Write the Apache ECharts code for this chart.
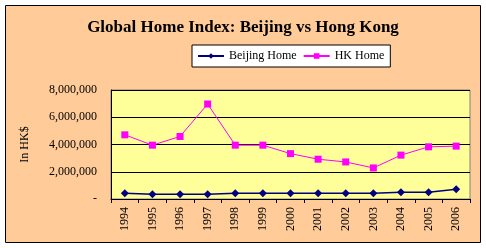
<!DOCTYPE html>
<html><head><meta charset="utf-8">
<script src="https://cdn.jsdelivr.net/npm/echarts@6/dist/echarts.min.js"></script>
<style>html,body{margin:0;padding:0;background:#fff}#c{width:486px;height:248px}</style>
</head><body><div id="c"></div>
<script>
const years = ['1994','1995','1996','1997','1998','1999','2000','2001','2002','2003','2004','2005','2006'];
const beijingHome = [420000,350000,350000,350000,420000,420000,420000,420000,420000,420000,490000,490000,710000];
const hkHome = [4710000,3950000,4590000,6970000,3950000,3950000,3330000,2920000,2720000,2280000,3220000,3830000,3880000];
const yTicks = [0,2000000,4000000,6000000,8000000];

const font = '"Liberation Serif", "Times New Roman", serif';
const chart = echarts.init(document.getElementById('c'));
chart.setOption({
  animation: false,
  textStyle: {fontFamily: font},
  graphic: [{
    type: 'rect', z: -10, silent: true,
    shape: {x: 5.5, y: 5.5, width: 475, height: 237},
    style: {fill: '#FFCC99', stroke: '#000', lineWidth: 1}
  }],
  title: {
    text: 'Global Home Index: Beijing vs Hong Kong',
    left: 'center', top: 14,
    textStyle: {fontFamily: font, fontSize: 17, fontWeight: 'bold', color: '#000'}
  },
  legend: {
    left: 192, top: 45,
    backgroundColor: '#fff', borderColor: '#000', borderWidth: 1,
    padding: [5, 6, 5, 5], itemGap: 6, itemWidth: 26, itemHeight: 7,
    textStyle: {fontFamily: font, fontSize: 12, color: '#000'},
    data: ['Beijing Home', 'HK Home']
  },
  grid: {
    left: 111, right: 16, top: 90, bottom: 49,
    show: true, backgroundColor: '#FFFF99', borderColor: '#808080', borderWidth: 1
  },
  xAxis: {
    type: 'category', data: years, boundaryGap: true,
    axisLine: {lineStyle: {color: '#000', width: 1}},
    axisTick: {show: true, length: 4, interval: 0, lineStyle: {color: '#000'}},
    axisLabel: {rotate: 90, interval: 0, fontFamily: font, fontSize: 12, color: '#000', margin: 8}
  },
  yAxis: {
    type: 'value', min: 0, max: 8000000, interval: 2000000,
    name: 'In HK$', nameLocation: 'middle', nameGap: 80, nameRotate: 90,
    nameTextStyle: {fontFamily: font, fontSize: 12, color: '#000'},
    axisLine: {show: true, lineStyle: {color: '#000'}},
    axisTick: {show: false},
    splitLine: {lineStyle: {color: '#000', width: 1}},
    axisLabel: {
      fontFamily: font, fontSize: 12, color: '#000', margin: 14,
      formatter: v => v === 0 ? '-' : v.toLocaleString('en-US')
    }
  },
  series: [
    {name: 'Beijing Home', type: 'line', data: beijingHome, symbol: 'diamond', symbolSize: 8,
     itemStyle: {color: '#000080'}, lineStyle: {color: '#000080', width: 1.5}},
    {name: 'HK Home', type: 'line', data: hkHome, symbol: 'rect', symbolSize: 7,
     itemStyle: {color: '#FF00FF'}, lineStyle: {color: '#FF00FF', width: 1}}
  ]
});
</script></body></html>
